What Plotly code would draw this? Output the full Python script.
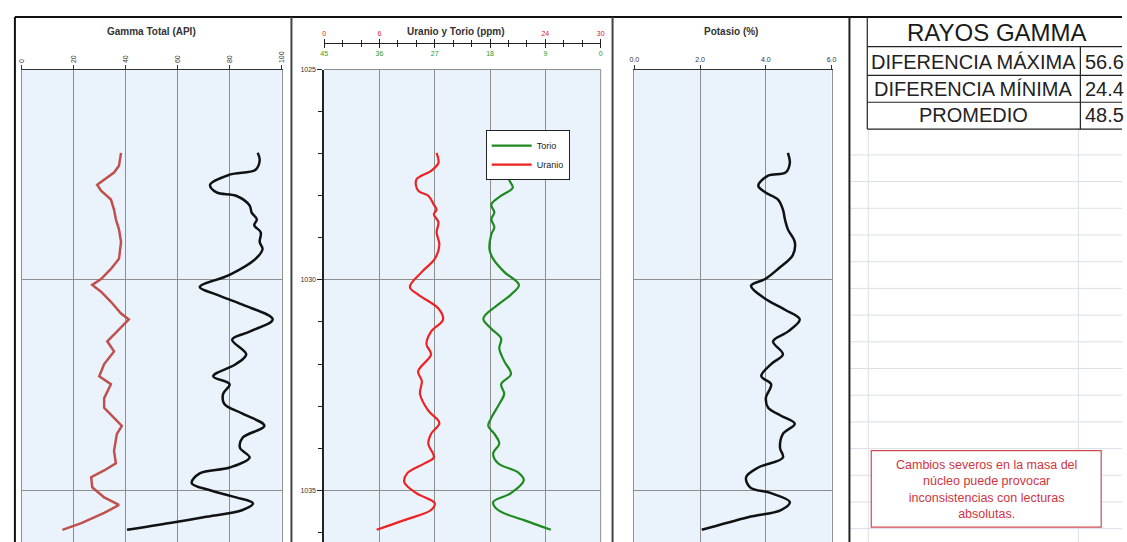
import plotly.graph_objects as go

W, H = 1127, 542

# Gamma total (API), two readings against depth (m)
gamma_log_depth = [1026.98, 1027.15, 1027.38, 1027.50, 1027.74, 1027.92, 1028.00, 1028.23, 1028.40,
                   1028.56, 1028.70, 1028.87, 1029.10, 1029.27, 1029.50, 1029.88, 1030.17, 1030.35,
                   1030.59, 1030.94, 1031.23, 1031.42, 1031.77, 1032.00, 1032.29, 1032.48, 1032.71,
                   1032.95, 1033.18, 1033.47, 1033.75, 1033.99, 1034.22, 1034.46, 1034.60, 1034.83,
                   1035.00, 1035.17, 1035.31, 1035.47, 1035.64, 1035.78, 1035.94]
gamma_log = [90.8, 91.6, 90.0, 80.0, 72.5, 75.0, 82.5, 87.7, 88.5,
             90.5, 89.5, 92.0, 91.6, 92.7, 90.0, 80.0, 68.5, 75.0,
             85.0, 96.6, 87.7, 81.0, 86.4, 82.5, 73.7, 80.0, 77.5,
             78.0, 85.0, 93.4, 85.0, 84.0, 87.7, 80.0, 68.5, 65.4,
             72.5, 82.5, 89.0, 85.0, 70.0, 57.0, 40.5]

gamma_core_depth = [1026.98, 1027.29, 1027.45, 1027.74, 1027.88, 1028.09, 1028.33, 1028.56, 1028.80,
                    1029.10, 1029.50, 1029.74, 1029.98, 1030.12, 1030.28, 1030.52, 1030.80, 1030.94,
                    1031.23, 1031.46, 1031.70, 1032.00, 1032.29, 1032.48, 1032.81, 1033.04, 1033.28,
                    1033.47, 1033.66, 1034.06, 1034.36, 1034.53, 1034.69, 1034.93, 1035.17, 1035.35,
                    1035.54, 1035.78, 1035.94]
gamma_core = [38.2, 37.4, 35.5, 29.0, 30.5, 34.3, 35.5, 36.2, 37.4,
              38.2, 37.4, 34.3, 30.5, 27.1, 30.5, 34.3, 38.2, 41.2,
              36.6, 32.9, 35.5, 31.7, 29.8, 34.3, 31.7, 31.7, 35.5,
              38.5, 36.6, 35.5, 36.2, 31.7, 26.7, 27.1, 31.7, 37.4,
              31.7, 22.9, 15.6]

# Uranio y Torio (ppm)
uranio_depth = [1026.98, 1027.22, 1027.41, 1027.62, 1027.88, 1028.00, 1028.21, 1028.33, 1028.44,
                1028.63, 1028.87, 1029.17, 1029.50, 1029.81, 1030.17, 1030.35, 1030.68, 1030.94,
                1031.23, 1031.53, 1031.77, 1032.17, 1032.41, 1032.71, 1033.11, 1033.40, 1033.66,
                1033.89, 1034.22, 1034.36, 1034.60, 1034.81, 1035.07, 1035.31, 1035.47, 1035.71,
                1035.94]
uranio = [12.2, 12.4, 11.6, 10.0, 10.2, 11.3, 11.9, 12.2, 11.9,
          12.4, 12.2, 12.5, 12.0, 10.6, 9.3, 10.2, 12.4, 12.9,
          11.6, 11.1, 11.6, 10.2, 10.6, 10.4, 11.3, 12.5, 11.6,
          11.3, 11.9, 10.9, 9.0, 8.7, 10.0, 12.0, 11.6, 8.7,
          5.7]

torio_depth = [1026.98, 1027.33, 1027.62, 1027.81, 1028.00, 1028.21, 1028.40, 1028.56, 1028.75,
               1028.92, 1029.27, 1029.50, 1029.81, 1030.12, 1030.35, 1030.59, 1030.92, 1031.16,
               1031.39, 1031.63, 1031.93, 1032.24, 1032.48, 1032.71, 1032.95, 1033.28, 1033.47,
               1033.66, 1033.89, 1034.13, 1034.36, 1034.58, 1034.76, 1035.07, 1035.28, 1035.47,
               1035.71, 1035.94]
torio = [15.8, 15.2, 14.9, 14.3, 16.2, 17.8, 17.3, 17.8, 17.3,
         17.8, 18.1, 17.5, 15.7, 13.3, 14.6, 16.7, 19.1, 17.8,
         16.2, 16.5, 15.7, 14.6, 16.2, 15.7, 16.5, 17.8, 18.3,
         17.3, 16.5, 17.5, 16.7, 13.4, 12.5, 14.6, 17.5, 16.7,
         12.5, 8.1]

# Potasio (%)
potasio_depth = [1026.98, 1027.22, 1027.45, 1027.52, 1027.76, 1027.92, 1028.09, 1028.33, 1028.56,
                 1028.80, 1029.10, 1029.41, 1029.74, 1029.98, 1030.14, 1030.45, 1030.71, 1030.94,
                 1031.23, 1031.46, 1031.77, 1032.00, 1032.29, 1032.48, 1032.81, 1033.04, 1033.23,
                 1033.42, 1033.66, 1033.99, 1034.22, 1034.46, 1034.69, 1034.93, 1035.07, 1035.28,
                 1035.47, 1035.64, 1035.94]
potasio = [4.67, 4.73, 4.60, 4.07, 3.77, 3.98, 4.37, 4.52, 4.58,
           4.67, 4.88, 4.82, 4.37, 3.98, 3.55, 3.98, 4.58, 5.03,
           4.67, 4.22, 4.52, 4.16, 3.86, 4.16, 4.00, 4.07, 4.46,
           4.88, 4.52, 4.43, 4.52, 3.77, 3.40, 3.52, 4.16, 4.73,
           4.46, 3.46, 2.05]

# top scale of the U/Th track (the 12 and 18 labels sit under the title)
uranio_ticks = [0, 6, 12, 18, 24, 30]
uranio_ticktext = ["0", "6", "", "", "24", "30"]

tabla_titulo = "RAYOS GAMMA"
tabla_labels = ["DIFERENCIA MÁXIMA", "DIFERENCIA MÍNIMA", "PROMEDIO"]
tabla_values = ["56.6", "24.4", "48.5"]
nota = "Cambios severos en la masa del<br>núcleo puede provocar<br>inconsistencias con lecturas<br>absolutas."

FONT = "Arial, Liberation Sans, sans-serif"
GRID = "#8e8e8e"
PLOT_BG = "#eaf3fc"
DEPTH_RANGE = [1036.23, 1025]


def px(x):
    return x / W


def py(y):
    return 1 - y / H


def line(x0, y0, x1, y1, color="#222", width=1, layer="above"):
    return dict(type="line", xref="paper", yref="paper", x0=px(x0), y0=py(y0),
                x1=px(x1), y1=py(y1), line=dict(color=color, width=width), layer=layer)


def text(x, y, s, size=10, color="#333", bold=False, xanchor="center"):
    if bold:
        s = f"<b>{s}</b>"
    return dict(x=px(x), y=py(y), xref="paper", yref="paper", text=s, showarrow=False,
                xanchor=xanchor, yanchor="middle", font=dict(family=FONT, size=size, color=color))


fig = go.Figure()

# Gamma total panel
fig.add_scatter(x=gamma_core, y=gamma_core_depth, mode="lines", xaxis="x", yaxis="y",
                line=dict(color="#c0504d", width=2.5), showlegend=False)
fig.add_scatter(x=gamma_log, y=gamma_log_depth, mode="lines", xaxis="x", yaxis="y",
                line=dict(color="#111", width=2.5, shape="spline", smoothing=1), showlegend=False)

# Uranio / Torio panel
fig.add_scatter(x=torio, y=torio_depth, mode="lines", name="Torio", xaxis="x3", yaxis="y2",
                line=dict(color="#1f8a1f", width=2.2, shape="spline", smoothing=1))
fig.add_scatter(x=uranio, y=uranio_depth, mode="lines", name="Uranio", xaxis="x2", yaxis="y2",
                line=dict(color="#ee2222", width=2.2, shape="spline", smoothing=1))

# Potasio panel
fig.add_scatter(x=potasio, y=potasio_depth, mode="lines", xaxis="x4", yaxis="y3",
                line=dict(color="#111", width=2.5, shape="spline", smoothing=1), showlegend=False)

ydom = [0, py(66)]
ybase = dict(domain=ydom, range=DEPTH_RANGE, tick0=1025, dtick=5, showgrid=True,
             gridcolor=GRID, zeroline=False)
tickfont = dict(family=FONT, size=7, color="#333")

fig.update_layout(
    width=W, height=H,
    margin=dict(l=0, r=0, t=0, b=0),
    paper_bgcolor="white",
    plot_bgcolor=PLOT_BG,
    font=dict(family=FONT),
    xaxis=dict(domain=[px(17), px(279)], anchor="y", side="top", range=[0, 100], dtick=20,
               tickangle=-90, ticks="outside", ticklen=4, tickcolor="#333", tickfont=tickfont,
               showline=True, linecolor="#333", showgrid=True, gridcolor=GRID, zeroline=False),
    yaxis=dict(**ybase, anchor="x", showticklabels=False, showline=True, linecolor=GRID,
               mirror=True),
    xaxis2=dict(domain=[px(322), px(601)], anchor="free", position=py(39), side="top",
                range=[0, 30], tickvals=uranio_ticks, ticktext=uranio_ticktext,
                ticks="outside", ticklen=4, tickcolor="#222",
                tickfont=dict(family=FONT, size=7, color="#e02020"),
                minor=dict(dtick=2, ticks="outside", ticklen=3, tickcolor="#222"),
                showline=True, linecolor="#222", showgrid=True, gridcolor=GRID, zeroline=False),
    xaxis3=dict(overlaying="x2", anchor="free", position=py(39), side="bottom",
                range=[45, 0], dtick=9, ticks="outside", ticklen=4, tickcolor="#222",
                tickfont=dict(family=FONT, size=7, color="#2a9a2a"),
                minor=dict(dtick=3, ticks="outside", ticklen=3, tickcolor="#222"),
                showline=False, showgrid=False, zeroline=False),
    yaxis2=dict(**ybase, anchor="x2", ticks="outside", ticklen=5, tickcolor="#222",
                tickfont=tickfont, showline=True, linecolor="#222", linewidth=1.5,
                minor=dict(dtick=1, ticks="outside", ticklen=4, tickcolor="#222", showgrid=False)),
    xaxis4=dict(domain=[px(635), px(834)], anchor="y3", side="top", range=[0, 6], dtick=2,
                tickformat=".1f", ticks="outside", ticklen=4, tickcolor="#333", tickfont=tickfont,
                showline=True, linecolor="#333", showgrid=True, gridcolor=GRID, zeroline=False),
    yaxis3=dict(**ybase, anchor="x4", showticklabels=False, showline=True, linecolor=GRID,
                mirror=True),
    legend=dict(x=px(485), y=py(127), xanchor="left", yanchor="top", bgcolor="white",
                bordercolor="#222", borderwidth=1, font=dict(family=FONT, size=9, color="#222"),
                itemwidth=40, tracegroupgap=0),
)

shapes = []

# spreadsheet cells behind the table and note
y = 152.0
while y < H:
    shapes.append(line(853, y, W, y, color="#dcdfe6", layer="below"))
    y += 26.9
shapes.append(line(871, 126, 871, H, color="#dcdfe6", layer="below"))
shapes.append(line(1083, 126, 1083, H, color="#dcdfe6", layer="below"))

# chart frames
shapes.append(line(10, 13, W, 13, color="#111", width=2))
shapes.append(line(10, 13, 10, H, color="#111", width=2))
shapes.append(line(289, 13, 289, H, color="#444", width=2))
shapes.append(line(613, 13, 613, H, color="#444", width=2))
shapes.append(line(852, 13, 852, H, color="#222", width=2))
shapes.append(line(322, 66, 601, 66, color=GRID))
shapes.append(line(601, 66, 601, H, color=GRID))

# table
for yy in [43, 72, 99, 126]:
    shapes.append(line(870, yy, W, yy, color="#222", width=1.2))
shapes.append(line(870, 13, 870, 126, color="#222", width=1.2))
shapes.append(line(1085, 43, 1085, 126, color="#222", width=1.2))

# note box
shapes.append(dict(type="rect", xref="paper", yref="paper", x0=px(874), y0=py(527),
                   x1=px(1106), y1=py(450), line=dict(color="#d04a55", width=1.2),
                   fillcolor="white", layer="above"))

annotations = [
    text(148, 28, "Gamma Total (API)", size=10, bold=True),
    text(455, 28, "Uranio y Torio (ppm)", size=10, bold=True),
    text(733, 28, "Potasio (%)", size=10, bold=True),
    text(1001, 29, tabla_titulo, size=24, color="#1a1a1a"),
]
for yy, lab, val in zip([58, 86, 112], tabla_labels, tabla_values):
    annotations.append(text(977, yy, lab, size=20, color="#222"))
    annotations.append(text(1088, yy, val, size=20, color="#222", xanchor="left"))
annotations.append(text(990, 489, nota, size=12.5, color="#d0343f"))

fig.update_layout(shapes=shapes, annotations=annotations)

fig.write_html("out.html", config={"displayModeBar": False},
               post_script="document.body.style.margin='0px';")
